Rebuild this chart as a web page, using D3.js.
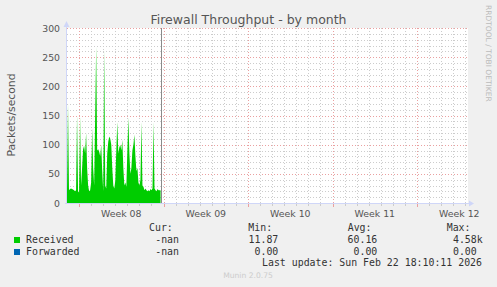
<!DOCTYPE html>
<html>
<head>
<meta charset="utf-8">
<script src="https://cdn.jsdelivr.net/npm/d3@7"></script>
<style>
  body { margin: 0; background: #f0f0f0; }
  svg { display: block; }
  text { font-family: "DejaVu Sans", sans-serif; }
  .mono { font-family: "DejaVu Sans Mono", monospace; font-size: 9.9px; fill: #333; }
</style>
</head>
<body>
<div id="chart"></div>
<script>
// data, one sample per 2 hours starting Feb 15 00:08 UTC
var received = [
  22, 170, 22, 24, 25, 24, 23, 22, 20, 22,
  150, 20, 18, 148, 30, 60, 92, 98, 85, 120,
  60, 30, 20, 22, 35, 128, 60, 30, 150, 268,
  90, 92, 88, 80, 100, 55, 20, 262, 30, 25,
  85, 105, 114, 110, 100, 60, 30, 25, 38, 90,
  139, 85, 95, 100, 90, 108, 60, 30, 35, 28,
  90, 146, 85, 50, 60, 90, 100, 117, 80, 55,
  60, 35, 30, 40, 139, 30, 28, 22, 25, 22,
  20, 22, 20, 24, 22, 25, 139, 25, 22, 20,
  24, 22, 22, 22
];
var yTicks = [0, 50, 100, 150, 200, 250, 300];
var weekLabels = ["Week 08", "Week 09", "Week 10", "Week 11", "Week 12"];
var seriesNames = ["Received", "Forwarded"];
var seriesColors = ["#00cc00", "#0066b3"];
var curValues = ["-nan", "-nan"];
var minValues = ["11.87", "0.00"];
var avgValues = ["60.16", "0.00"];
var maxValues = ["4.58k", "0.00 "];
var lastUpdate = "Last update: Sun Feb 22 18:10:11 2026";

var width = 497, height = 287;
var plotLeft = 67, plotRight = 467, plotTop = 28, plotBottom = 203;

var startTime = new Date(Date.UTC(2026, 1, 15, 0, 8));
var endTime = new Date(Date.UTC(2026, 2, 20, 3, 20));
var stepMs = 2 * 3600 * 1000;
var halfWeekMs = 3.5 * 24 * 3600 * 1000;

var minorColor = "#cccccc";
var majorColor = "#eaa0a0";

var svg = d3.select("#chart").append("svg")
    .attr("width", width)
    .attr("height", height);

svg.append("rect").attr("width", width).attr("height", height).attr("fill", "#f0f0f0");

var x = d3.scaleUtc().domain([startTime, endTime]).range([plotLeft, plotRight]);
var y = d3.scaleLinear().domain([0, 300]).range([plotBottom, plotTop]);

// plot background
svg.append("rect")
    .attr("x", plotLeft).attr("y", plotTop)
    .attr("width", plotRight - plotLeft + 1).attr("height", plotBottom - plotTop)
    .attr("fill", "#ffffff");

var grid = svg.append("g").attr("shape-rendering", "crispEdges");

// minor horizontal grid every 10
d3.range(10, 301, 10).filter(v => v % 50 !== 0).forEach(v => {
    grid.append("line")
        .attr("x1", plotLeft).attr("x2", plotRight + 1)
        .attr("y1", Math.round(y(v)) + 0.5).attr("y2", Math.round(y(v)) + 0.5)
        .attr("stroke", minorColor).attr("stroke-dasharray", "1,2");
});

// daily and weekly vertical lines
var days = d3.utcDay.range(d3.utcDay.ceil(startTime), endTime);
days.forEach(d => {
    var monday = d.getUTCDay() === 1;
    var px = Math.round(x(d)) + 0.5;
    grid.append("line")
        .attr("x1", px).attr("x2", px)
        .attr("y1", plotTop).attr("y2", plotBottom)
        .attr("stroke", monday ? majorColor : minorColor)
        .attr("stroke-dasharray", "1,2");
    grid.append("line")
        .attr("x1", px).attr("x2", px)
        .attr("y1", plotBottom + 1).attr("y2", plotBottom + (monday ? 4 : 3))
        .attr("stroke", monday ? majorColor : minorColor);
});

// major horizontal grid
yTicks.filter(v => v > 0).forEach(v => {
    grid.append("line")
        .attr("x1", plotLeft).attr("x2", plotRight + 1)
        .attr("y1", Math.round(y(v)) + 0.5).attr("y2", Math.round(y(v)) + 0.5)
        .attr("stroke", majorColor).attr("stroke-dasharray", "1,2");
});

// the area
var area = d3.area()
    .x((d, i) => x(new Date(startTime.getTime() + i * stepMs)))
    .y0(y(0))
    .y1(d => y(d));

svg.append("path")
    .datum(received)
    .attr("d", area)
    .attr("fill", seriesColors[0]);

// "now" rule
var lastTime = new Date(startTime.getTime() + (received.length - 1) * stepMs);
svg.append("line")
    .attr("x1", Math.round(x(lastTime)) + 0.5).attr("x2", Math.round(x(lastTime)) + 0.5)
    .attr("y1", plotTop).attr("y2", plotBottom)
    .attr("stroke", "#8a8a8a").attr("shape-rendering", "crispEdges");

// axes with arrows
var axisColor = "#cfd6f8";
svg.append("line")
    .attr("x1", plotLeft - 0.5).attr("x2", plotLeft - 0.5)
    .attr("y1", plotBottom + 1).attr("y2", 24)
    .attr("stroke", axisColor).attr("shape-rendering", "crispEdges");
svg.append("path")
    .attr("d", `M${plotLeft - 3.5},27 L${plotLeft - 0.5},21 L${plotLeft + 2.5},27 Z`)
    .attr("fill", axisColor);
svg.append("line")
    .attr("x1", plotLeft - 2).attr("x2", plotRight + 3)
    .attr("y1", plotBottom + 0.5).attr("y2", plotBottom + 0.5)
    .attr("stroke", axisColor).attr("shape-rendering", "crispEdges");
svg.append("path")
    .attr("d", `M${plotRight + 2},${plotBottom - 2.5} L${plotRight + 7},${plotBottom + 0.5} L${plotRight + 2},${plotBottom + 3.5} Z`)
    .attr("fill", axisColor);

// y tick labels
svg.append("g").selectAll("text")
    .data(yTicks)
    .join("text")
    .attr("x", 60)
    .attr("y", d => y(d) + 3.5)
    .attr("text-anchor", "end")
    .attr("font-size", "9.3px")
    .attr("fill", "#555")
    .text(d => d);

// week labels, centred on each week
var mondays = d3.utcMonday.range(d3.utcMonday.ceil(startTime), endTime);
svg.append("g").selectAll("text")
    .data(mondays)
    .join("text")
    .attr("x", d => x(new Date(d.getTime() + halfWeekMs)))
    .attr("y", 217)
    .attr("text-anchor", "middle")
    .attr("font-size", "9.4px")
    .attr("fill", "#555")
    .text((d, i) => weekLabels[i]);

// title
svg.append("text")
    .attr("x", 248.5).attr("y", 23.5)
    .attr("text-anchor", "middle")
    .attr("font-size", "12.5px")
    .attr("fill", "#555")
    .text("Firewall Throughput - by month");

// y label
svg.append("text")
    .attr("transform", "translate(14.5,115) rotate(-90)")
    .attr("text-anchor", "middle")
    .attr("font-size", "10.8px")
    .attr("fill", "#555")
    .text("Packets/second");

// rrdtool watermark
svg.append("text")
    .attr("transform", "translate(486,5) rotate(90)")
    .attr("font-size", "7.5px")
    .attr("fill", "#bbb")
    .text("RRDTOOL / TOBI OETIKER");

// legend
var legend = svg.append("g");
legend.append("text").attr("class", "mono").attr("x", 149).attr("y", 231).text("Cur:");
legend.append("text").attr("class", "mono").attr("x", 248.3).attr("y", 231).text("Min:");
legend.append("text").attr("class", "mono").attr("x", 347.7).attr("y", 231).text("Avg:");
legend.append("text").attr("class", "mono").attr("x", 446.7).attr("y", 231).text("Max:");

seriesNames.forEach((name, i) => {
    var yy = 243 + i * 12;
    legend.append("rect")
        .attr("x", 14).attr("y", yy - 6)
        .attr("width", 6).attr("height", 6)
        .attr("fill", seriesColors[i]);
    legend.append("text").attr("class", "mono").attr("x", 26).attr("y", yy).text(name);
    legend.append("text").attr("class", "mono").attr("x", 179).attr("y", yy)
        .attr("text-anchor", "end").text(curValues[i]);
    legend.append("text").attr("class", "mono").attr("x", 278.3).attr("y", yy)
        .attr("text-anchor", "end").text(minValues[i]);
    legend.append("text").attr("class", "mono").attr("x", 377.3).attr("y", yy)
        .attr("text-anchor", "end").text(avgValues[i]);
    legend.append("text").attr("class", "mono").attr("x", 482.7).attr("y", yy)
        .attr("text-anchor", "end").attr("xml:space", "preserve").text(maxValues[i]);
});

legend.append("text").attr("class", "mono")
    .attr("x", 482).attr("y", 266)
    .attr("text-anchor", "end")
    .text(lastUpdate);

svg.append("text")
    .attr("x", 248).attr("y", 278)
    .attr("text-anchor", "middle")
    .attr("font-size", "7.6px")
    .attr("fill", "#ccc")
    .text("Munin 2.0.75");
</script>
</body>
</html>
